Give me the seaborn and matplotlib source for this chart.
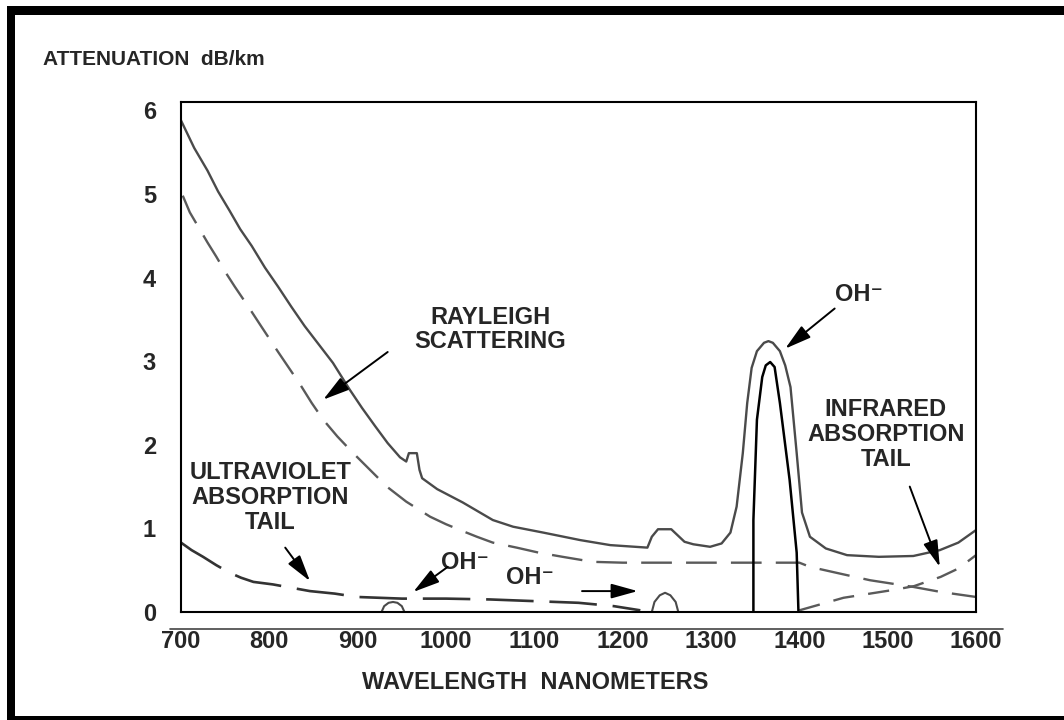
import matplotlib
matplotlib.use("Agg")
import matplotlib.pyplot as plt
import seaborn as sns
from matplotlib import font_manager
from matplotlib.patches import Rectangle
from matplotlib.lines import Line2D

# total attenuation (solid curve), nm / dB per km
total_nm = [700, 715, 730, 742, 755, 767, 780, 795, 810, 825, 840, 856, 872, 891, 905, 920,
            934, 948, 955, 958, 967, 970, 973, 990, 1019, 1053, 1076, 1110, 1152, 1186, 1228,
            1233, 1240, 1255, 1262, 1270, 1280, 1299, 1312, 1322, 1329, 1336, 1341, 1346,
            1352, 1360, 1365, 1370, 1378, 1384, 1390, 1397, 1403, 1412, 1430, 1454, 1490,
            1529, 1559, 1580, 1600]
total_db = [5.88, 5.55, 5.28, 5.03, 4.80, 4.58, 4.38, 4.12, 3.89, 3.65, 3.42, 3.20, 2.98, 2.66,
            2.44, 2.22, 2.02, 1.85, 1.80, 1.90, 1.90, 1.70, 1.60, 1.47, 1.31, 1.10, 1.02, 0.95,
            0.86, 0.80, 0.77, 0.90, 0.99, 0.99, 0.92, 0.84, 0.81, 0.78, 0.82, 0.95, 1.26, 1.90,
            2.50, 2.92, 3.12, 3.22, 3.24, 3.22, 3.12, 2.95, 2.69, 1.90, 1.19, 0.90, 0.76, 0.68,
            0.66, 0.67, 0.74, 0.83, 0.98]

# rayleigh scattering (dashed)
rayleigh_nm = [702, 710, 720, 730, 740, 750, 761, 777, 790, 810, 835, 848, 861, 877, 895, 914,
               933, 955, 982, 1000, 1016, 1035, 1053, 1080, 1105, 1132, 1166, 1200, 1300, 1400,
               1412, 1450, 1480, 1529, 1560, 1600]
rayleigh_db = [4.98, 4.78, 4.60, 4.42, 4.25, 4.07, 3.89, 3.64, 3.43, 3.11, 2.72, 2.50, 2.30, 2.10,
               1.90, 1.70, 1.50, 1.32, 1.14, 1.05, 0.98, 0.90, 0.83, 0.77, 0.71, 0.66, 0.60, 0.59,
               0.59, 0.59, 0.54, 0.45, 0.38, 0.30, 0.24, 0.18]

# ultraviolet absorption tail
uv_nm = [700, 712, 725, 740, 755, 768, 782, 804, 846, 874, 899, 950, 1000, 1050, 1100, 1150,
         1190, 1220]
uv_db = [0.83, 0.74, 0.66, 0.56, 0.47, 0.41, 0.36, 0.33, 0.25, 0.22, 0.18, 0.16, 0.16, 0.15,
         0.13, 0.11, 0.07, 0.02]

# infrared absorption tail
ir_nm = [1400, 1420, 1450, 1480, 1510, 1530, 1560, 1580, 1600]
ir_db = [0.02, 0.08, 0.17, 0.22, 0.27, 0.31, 0.42, 0.52, 0.68]

# OH- peaks
oh_peak_nm = [1348, 1348, 1352, 1358, 1362, 1367, 1372, 1378, 1389, 1397, 1399]
oh_peak_db = [0.0, 1.10, 2.30, 2.81, 2.95, 2.99, 2.93, 2.50, 1.58, 0.71, 0.0]
oh_small1_nm = [927, 930, 935, 940, 945, 950, 953]
oh_small1_db = [0.0, 0.07, 0.11, 0.12, 0.11, 0.07, 0.0]
oh_small2_nm = [1233, 1236, 1242, 1248, 1254, 1260, 1263]
oh_small2_db = [0.0, 0.12, 0.20, 0.23, 0.20, 0.12, 0.0]

x_ticks = [700, 800, 900, 1000, 1100, 1200, 1300, 1400, 1500, 1600]
y_ticks = [0, 1, 2, 3, 4, 5, 6]

sns.set_theme(style="white")
names = {f.name for f in font_manager.fontManager.ttflist}
narrow = "Liberation Sans Narrow" if "Liberation Sans Narrow" in names else "Liberation Sans"
plt.rcParams["font.family"] = [narrow, "Liberation Sans", "DejaVu Sans"]

fig = plt.figure(figsize=(10.64, 7.2), dpi=100)
ax = fig.add_axes([0.1701, 0.15, 0.7472, 0.7083])

solid = "#4a4a4a"
dash = "#5a5a5a"
sns.lineplot(x=total_nm, y=total_db, sort=False, estimator=None, color=solid, lw=1.7, ax=ax)
sns.lineplot(x=rayleigh_nm, y=rayleigh_db, sort=False, estimator=None, color=dash, lw=1.7,
             linestyle=(0, (13, 6)), ax=ax)
sns.lineplot(x=uv_nm, y=uv_db, sort=False, estimator=None, color="#333333", lw=1.9,
             linestyle=(0, (18, 6)), ax=ax)
sns.lineplot(x=ir_nm, y=ir_db, sort=False, estimator=None, color=dash, lw=1.7,
             linestyle=(0, (9, 6)), ax=ax)
sns.lineplot(x=oh_peak_nm, y=oh_peak_db, sort=False, estimator=None, color="black", lw=1.8, ax=ax)
sns.lineplot(x=oh_small1_nm, y=oh_small1_db, sort=False, estimator=None, color=solid, lw=1.5, ax=ax)
sns.lineplot(x=oh_small2_nm, y=oh_small2_db, sort=False, estimator=None, color=solid, lw=1.5, ax=ax)

ax.set_xlim(700, 1600)
ax.set_ylim(0, 6.1)
ax.set_xticks(x_ticks)
ax.set_yticks(y_ticks)
ax.set_xticks([800, 900, 1000, 1500], minor=True)
ax.set_yticks([1, 2, 3, 4], minor=True)
ax.tick_params(which="major", length=0, labelsize=17)
ax.tick_params(axis="x", which="major", pad=13)
ax.tick_params(axis="y", which="major", pad=18)
ax.tick_params(which="minor", direction="in", length=10, width=1.3, color="#333333",
               bottom=True, left=True)
for lab in ax.get_xticklabels() + ax.get_yticklabels():
    lab.set_fontweight("bold")
for s in ax.spines.values():
    s.set_color("black")
    s.set_linewidth(1.5)
ax.set_xlabel("")
ax.set_ylabel("")

# separate baseline above the tick labels
fig.add_artist(Line2D([0.1598, 0.9427], [0.1264, 0.1264], color="#444444", lw=1.2))

fig.text(0.503, 0.0514, "WAVELENGTH  NANOMETERS", ha="center", va="center",
         fontsize=17, fontweight="bold")
fig.text(0.0404, 0.9167, "ATTENUATION  dB/km", ha="left", va="center",
         fontsize=15, fontweight="bold", family=["Liberation Sans", "DejaVu Sans"])

head = dict(arrowstyle="-|>,head_length=0.9,head_width=0.25", color="black", lw=1.4,
            mutation_scale=18, shrinkA=0, shrinkB=0)
txt = dict(ha="center", va="center", fontsize=17, fontweight="bold", linespacing=1.1)

ax.text(1050, 3.38, "RAYLEIGH\nSCATTERING", family=["Liberation Sans", "DejaVu Sans"], **txt)
ax.annotate("", xy=(861, 2.54), xytext=(934, 3.11), arrowprops=head)

ax.text(801, 1.37, "ULTRAVIOLET\nABSORPTION\nTAIL", **txt)
ax.annotate("", xy=(846, 0.37), xytext=(818, 0.77), arrowprops=head)

ax.text(1021, 0.59, "OH\u207b", **txt)
ax.annotate("", xy=(963, 0.24), xytext=(1002, 0.54), arrowprops=head)

ax.text(1095, 0.41, "OH\u207b", **txt)
ax.annotate("", xy=(1217, 0.25), xytext=(1154, 0.25), arrowprops=head)

ax.text(1468, 3.80, "OH\u207b", **txt)
ax.annotate("", xy=(1384, 3.15), xytext=(1440, 3.63), arrowprops=head)

ax.text(1498, 2.12, "INFRARED\nABSORPTION\nTAIL", **txt)
ax.annotate("", xy=(1559, 0.54), xytext=(1525, 1.50), arrowprops=head)

# thick black frame round the picture
W, H = 1064, 720
fig.add_artist(Rectangle((7 / W, 1 - 15 / H), 1 - 7 / W, 9 / H, transform=fig.transFigure,
                         color="black", lw=0))
fig.add_artist(Rectangle((7 / W, 0), 8 / W, 1 - 6 / H, transform=fig.transFigure,
                         color="black", lw=0))
fig.add_artist(Rectangle((7 / W, 0), 1 - 7 / W, 4 / H, transform=fig.transFigure,
                         color="black", lw=0))

fig.savefig("out.png", dpi=100)
